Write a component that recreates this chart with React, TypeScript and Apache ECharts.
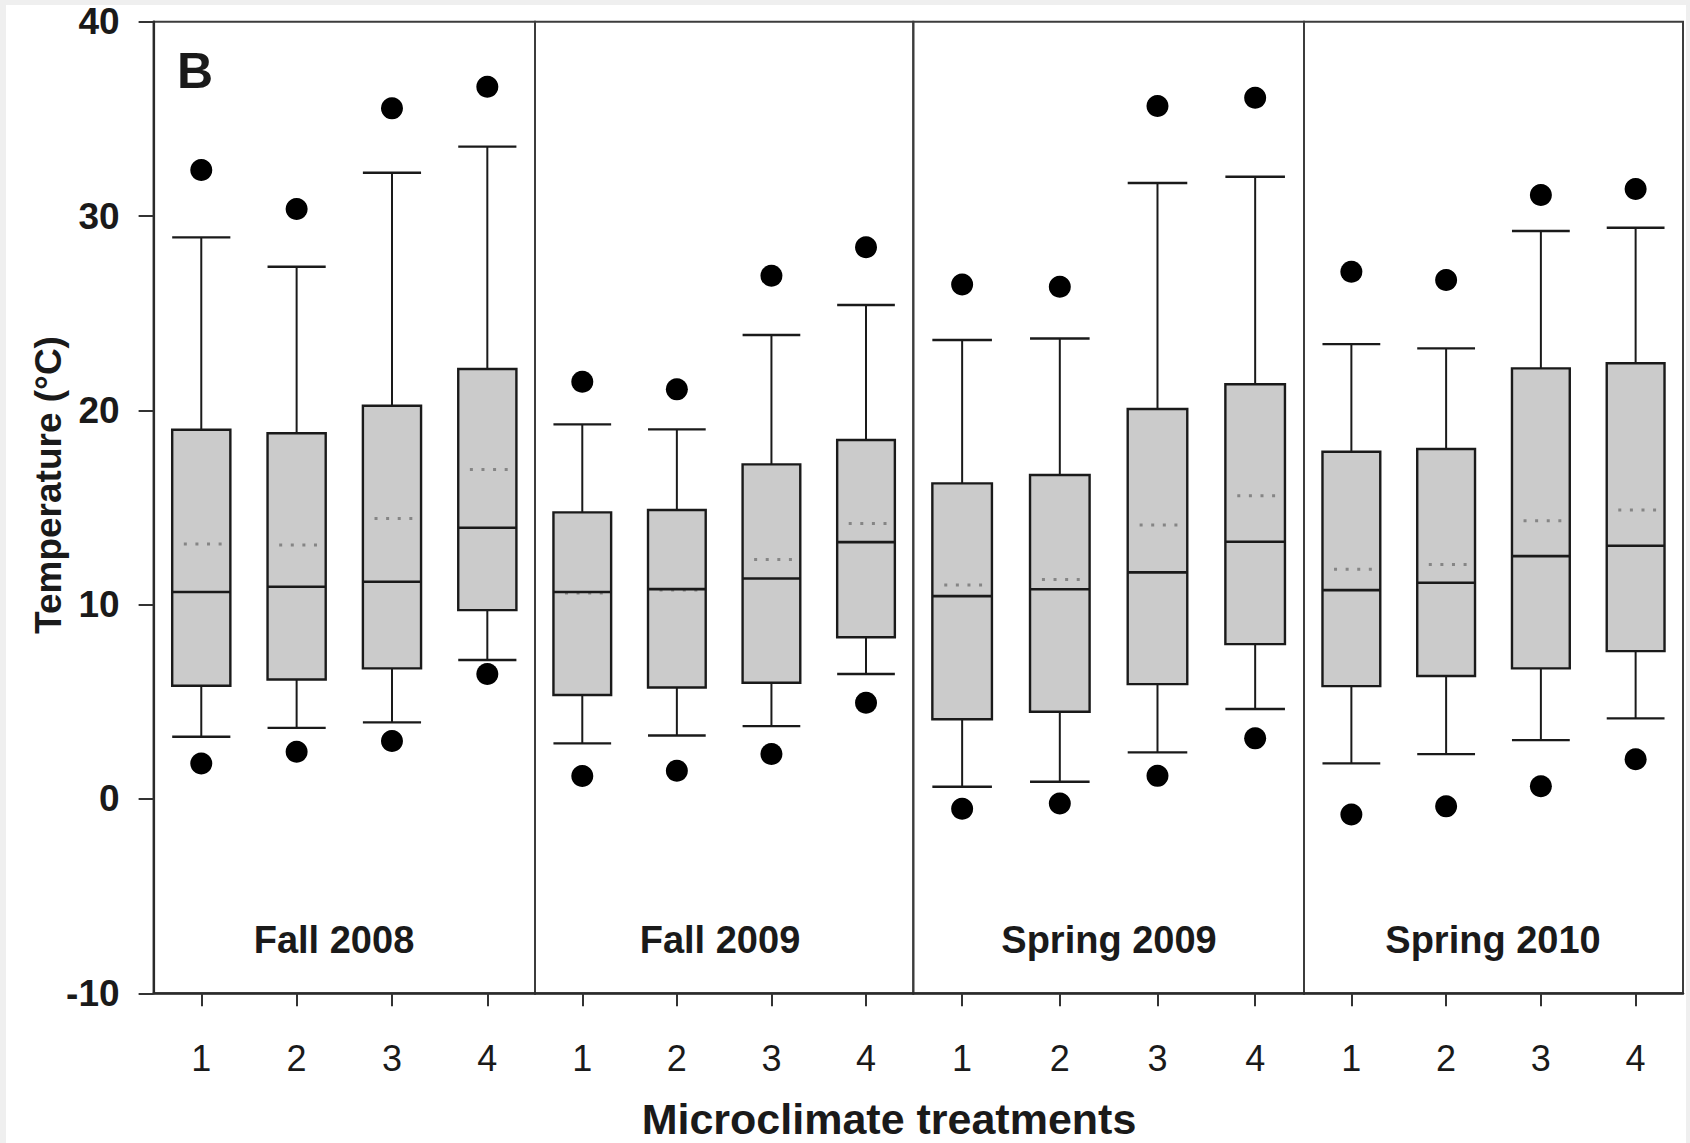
import { useEffect, useRef } from 'react';
import * as echarts from 'echarts';

// Seasons (panels) and microclimate treatments (boxes within each panel)
const seasons = ['Fall 2008', 'Fall 2009', 'Spring 2009', 'Spring 2010'];
const treatments = ['1', '2', '3', '4'];

// Temperature statistics (°C): one row per season, one column per treatment
const whiskerLow = [
  [3.2, 3.66, 3.94, 7.15],
  [2.86, 3.27, 3.75, 6.43],
  [0.63, 0.89, 2.4, 4.63],
  [1.83, 2.31, 3.03, 4.15],
];
const quartile1 = [
  [5.83, 6.15, 6.72, 9.72],
  [5.35, 5.74, 5.98, 8.32],
  [4.1, 4.49, 5.91, 7.97],
  [5.81, 6.33, 6.72, 7.61],
];
const medians = [
  [10.65, 10.92, 11.18, 13.96],
  [10.65, 10.8, 11.35, 13.22],
  [10.44, 10.79, 11.66, 13.24],
  [10.75, 11.13, 12.5, 13.03],
];
const quartile3 = [
  [19.0, 18.82, 20.24, 22.13],
  [14.75, 14.87, 17.22, 18.47],
  [16.24, 16.67, 20.07, 21.34],
  [17.87, 18.01, 22.16, 22.42],
];
const whiskerHigh = [
  [28.9, 27.39, 32.23, 33.57],
  [19.28, 19.02, 23.88, 25.42],
  [23.62, 23.7, 31.7, 32.02],
  [23.41, 23.19, 29.23, 29.4],
];
const means = [
  [13.12, 13.07, 14.44, 16.96],
  [10.6, 10.75, 12.33, 14.18],
  [11.01, 11.3, 14.1, 15.6],
  [11.82, 12.07, 14.32, 14.87],
];
const outlierLow = [
  [1.83, 2.43, 2.98, 6.43],
  [1.18, 1.45, 2.31, 4.95],
  [-0.5, -0.23, 1.19, 3.12],
  [-0.8, -0.38, 0.66, 2.04],
];
const outlierHigh = [
  [32.37, 30.36, 35.54, 36.65],
  [21.47, 21.08, 26.93, 28.39],
  [26.48, 26.36, 35.66, 36.09],
  [27.13, 26.71, 31.08, 31.39],
];

// Temperature axis range and step
const yMin = -10;
const yMax = 40;
const yStep = 10;

const panelLetter = 'B';
const yTitle = 'Temperature (°C)';
const xTitle = 'Microclimate treatments';

// Layout (pixels inside the chart canvas)
const PANEL_EDGES = [153.6, 535, 913.3, 1304, 1683];
const GRID_TOP = 21.7;
const GRID_BOTTOM = 149.7;
const SEASON_LABEL_X = [334, 720, 1109, 1493];
const SEASON_LABEL_Y = 940;
const BOX_RATIO = 0.61;
const FONT = "'Liberation Sans', Arial, Helvetica, sans-serif";
const INK = '#1a1a1a';

function renderBox(params: any, api: any) {
  const x = api.value(0);
  const band = api.size([1, 0])[0];
  const w = band * BOX_RATIO;
  const pLow = api.coord([x, api.value(1)]);
  const pQ1 = api.coord([x, api.value(2)]);
  const pMed = api.coord([x, api.value(3)]);
  const pQ3 = api.coord([x, api.value(4)]);
  const pHigh = api.coord([x, api.value(5)]);
  const pMean = api.coord([x, api.value(6)]);
  const cx = pMed[0];
  const x0 = cx - w / 2;
  const x1 = cx + w / 2;
  const line = (xa: number, ya: number, xb: number, yb: number, width: number) => ({
    type: 'line',
    shape: { x1: xa, y1: ya, x2: xb, y2: yb },
    style: { stroke: INK, lineWidth: width },
  });
  return {
    type: 'group',
    children: [
      line(cx, pQ3[1], cx, pHigh[1], 2),
      line(cx, pQ1[1], cx, pLow[1], 2),
      line(x0, pHigh[1], x1, pHigh[1], 2.4),
      line(x0, pLow[1], x1, pLow[1], 2.4),
      {
        type: 'rect',
        shape: { x: x0, y: pQ3[1], width: w, height: pQ1[1] - pQ3[1] },
        style: { fill: '#cbcbcb', stroke: INK, lineWidth: 2.4 },
      },
      {
        type: 'line',
        shape: { x1: x0 + w * 0.2, y1: pMean[1], x2: x0 + w * 0.86, y2: pMean[1] },
        style: { stroke: '#858585', lineWidth: 3, lineDash: [3, 8.6] },
      },
      line(x0, pMed[1], x1, pMed[1], 2.6),
    ],
  };
}

export default function App() {
  const ref = useRef<HTMLDivElement>(null);

  useEffect(() => {
    if (!ref.current) return;
    const chart = echarts.init(ref.current, undefined, { renderer: 'svg' });

    const grids: any[] = [];
    const xAxes: any[] = [];
    const yAxes: any[] = [];
    const series: any[] = [];

    seasons.forEach((season, s) => {
      grids.push({
        left: PANEL_EDGES[s],
        width: PANEL_EDGES[s + 1] - PANEL_EDGES[s],
        top: GRID_TOP,
        bottom: GRID_BOTTOM,
        show: true,
        borderColor: '#3c3c3c',
        borderWidth: 2,
        backgroundColor: 'transparent',
      });
      xAxes.push({
        type: 'category',
        gridIndex: s,
        data: treatments,
        boundaryGap: true,
        axisLine: { show: true, onZero: false, lineStyle: { color: '#2a2a2a', width: 2.5 } },
        axisTick: {
          show: true,
          alignWithLabel: true,
          length: 13,
          lineStyle: { color: '#333', width: 2 },
        },
        axisLabel: {
          interval: 0,
          margin: 47,
          fontSize: 36,
          fontFamily: FONT,
          color: INK,
        },
        splitLine: { show: false },
      });
      yAxes.push({
        type: 'value',
        gridIndex: s,
        min: yMin,
        max: yMax,
        interval: yStep,
        show: s === 0,
        axisLine: { show: true, onZero: false, lineStyle: { color: '#2a2a2a', width: 2.2 } },
        axisTick: { show: true, length: 15, lineStyle: { color: '#333', width: 2 } },
        axisLabel: {
          margin: 34,
          fontSize: 37,
          fontWeight: 'bold',
          fontFamily: FONT,
          color: INK,
        },
        splitLine: { show: false },
      });

      const boxData = treatments.map((_, t) => [
        t,
        whiskerLow[s][t],
        quartile1[s][t],
        medians[s][t],
        quartile3[s][t],
        whiskerHigh[s][t],
        means[s][t],
      ]);
      series.push({
        type: 'custom',
        name: season,
        xAxisIndex: s,
        yAxisIndex: s,
        renderItem: renderBox,
        encode: { x: 0, y: [1, 2, 3, 4, 5, 6] },
        data: boxData,
        z: 2,
      });

      const dots: number[][] = [];
      treatments.forEach((_, t) => {
        dots.push([t, outlierLow[s][t]]);
        dots.push([t, outlierHigh[s][t]]);
      });
      series.push({
        type: 'scatter',
        name: season + ' outliers',
        xAxisIndex: s,
        yAxisIndex: s,
        symbol: 'circle',
        symbolSize: 22,
        itemStyle: { color: '#000', opacity: 1 },
        data: dots,
        z: 3,
      });
    });

    const graphic: any[] = [
      {
        type: 'rect',
        z: -100,
        silent: true,
        shape: { x: 6, y: 5, width: 1680, height: 1138 },
        style: { fill: '#ffffff' },
      },
      {
        type: 'text',
        x: 177,
        y: 71,
        style: {
          text: panelLetter,
          fontSize: 50,
          fontWeight: 'bold',
          fontFamily: FONT,
          fill: INK,
          align: 'left',
          verticalAlign: 'middle',
        },
      },
      {
        type: 'text',
        x: 48,
        y: 485,
        rotation: Math.PI / 2,
        style: {
          text: yTitle,
          fontSize: 37,
          fontWeight: 'bold',
          fontFamily: FONT,
          fill: INK,
          align: 'center',
          verticalAlign: 'middle',
        },
      },
      {
        type: 'text',
        x: 889,
        y: 1119,
        style: {
          text: xTitle,
          fontSize: 43,
          fontWeight: 'bold',
          fontFamily: FONT,
          fill: INK,
          align: 'center',
          verticalAlign: 'middle',
        },
      },
      ...seasons.map((season, s) => ({
        type: 'text',
        x: SEASON_LABEL_X[s],
        y: SEASON_LABEL_Y,
        style: {
          text: season,
          fontSize: 38,
          fontWeight: 'bold',
          fontFamily: FONT,
          fill: INK,
          align: 'center',
          verticalAlign: 'middle',
        },
      })),
    ];

    chart.setOption({
      animation: false,
      backgroundColor: '#efefef',
      grid: grids,
      xAxis: xAxes,
      yAxis: yAxes,
      series,
      graphic,
    });

    return () => chart.dispose();
  }, []);

  return <div ref={ref} style={{ position: 'fixed', left: 0, top: 0, width: 1690, height: 1143 }} />;
}
